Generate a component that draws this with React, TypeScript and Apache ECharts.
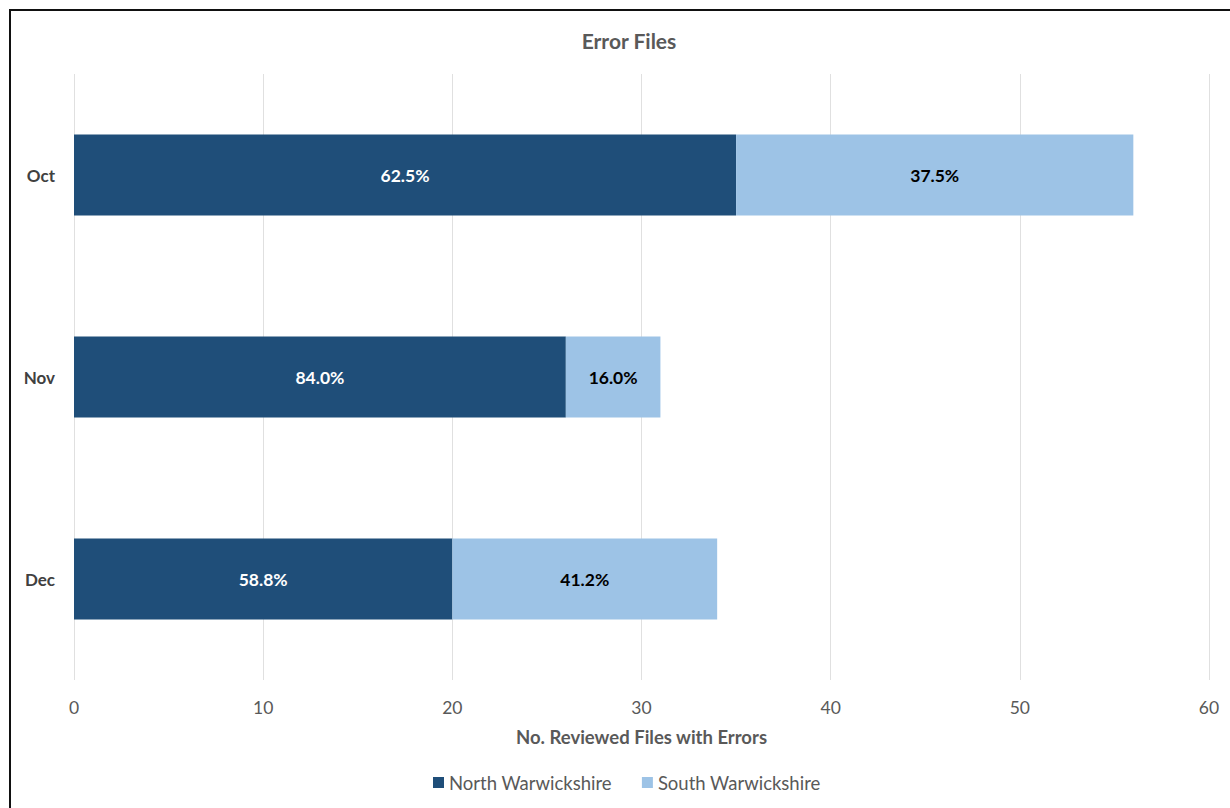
import React, { useEffect, useRef } from "react";
import * as echarts from "echarts";

const categories = ["Oct", "Nov", "Dec"];
const northValues = [35, 26, 20];
const southValues = [21, 5, 14];
const northLabels = ["62.5%", "84.0%", "58.8%"];
const southLabels = ["37.5%", "16.0%", "41.2%"];
const seriesNames = ["North Warwickshire", "South Warwickshire"];

const FONT = "Lato";

export default function App() {
  const ref = useRef<HTMLDivElement>(null);
  useEffect(() => {
    if (!ref.current) return;
    const chart = echarts.init(ref.current, null, { renderer: "svg" });
    chart.setOption({
      animation: false,
      backgroundColor: "#ffffff",
      textStyle: { fontFamily: FONT },
      title: {
        text: "Error Files",
        left: 624,
        textAlign: "center",
        top: 25,
        textStyle: { fontFamily: FONT, fontSize: 21, fontWeight: "bold", color: "#595959" },
      },
      graphic: [
        {
          type: "rect",
          shape: { x: 10, y: 10, width: 1240, height: 820 },
          style: { fill: "none", stroke: "#111111", lineWidth: 2 },
          silent: true,
        },
      ],
      grid: { left: 74, right: 21, top: 74, bottom: 128, containLabel: false },
      xAxis: {
        type: "value",
        min: 0,
        max: 60,
        interval: 10,
        name: "No. Reviewed Files with Errors",
        nameLocation: "middle",
        nameGap: 47,
        nameTextStyle: { fontFamily: FONT, fontSize: 18.5, fontWeight: "bold", color: "#595959" },
        axisLine: { show: false },
        axisTick: { show: false },
        axisLabel: { fontFamily: FONT, fontSize: 17.5, color: "#595959", margin: 18 },
        splitLine: { show: true, lineStyle: { color: "#e0e0e0", width: 1 } },
      },
      yAxis: {
        type: "category",
        data: categories,
        inverse: true,
        axisLine: { show: false },
        axisTick: { show: false },
        axisLabel: { fontFamily: FONT, fontSize: 17, fontWeight: "bold", color: "#404040", margin: 19 },
      },
      legend: {
        bottom: 11,
        left: 428,
        icon: "rect",
        itemWidth: 11,
        itemHeight: 11,
        itemGap: 30,
        textStyle: { fontFamily: FONT, fontSize: 18.5, color: "#595959" },
        data: seriesNames,
      },
      series: [
        {
          name: seriesNames[0],
          type: "bar",
          stack: "total",
          barWidth: 81,
          itemStyle: { color: "#1F4E79" },
          label: {
            show: true,
            position: "inside",
            formatter: (p: any) => northLabels[p.dataIndex],
            color: "#ffffff",
            fontFamily: FONT,
            fontSize: 17.5,
            fontWeight: "bold",
          },
          data: northValues,
        },
        {
          name: seriesNames[1],
          type: "bar",
          stack: "total",
          barWidth: 81,
          itemStyle: { color: "#9DC3E6" },
          label: {
            show: true,
            position: "inside",
            formatter: (p: any) => southLabels[p.dataIndex],
            color: "#000000",
            fontFamily: FONT,
            fontSize: 17.5,
            fontWeight: "bold",
          },
          data: southValues,
        },
      ],
    });
    return () => chart.dispose();
  }, []);
  return (
    <div
      ref={ref}
      style={{ position: "absolute", left: 0, top: 0, width: 1230, height: 808 }}
    />
  );
}
